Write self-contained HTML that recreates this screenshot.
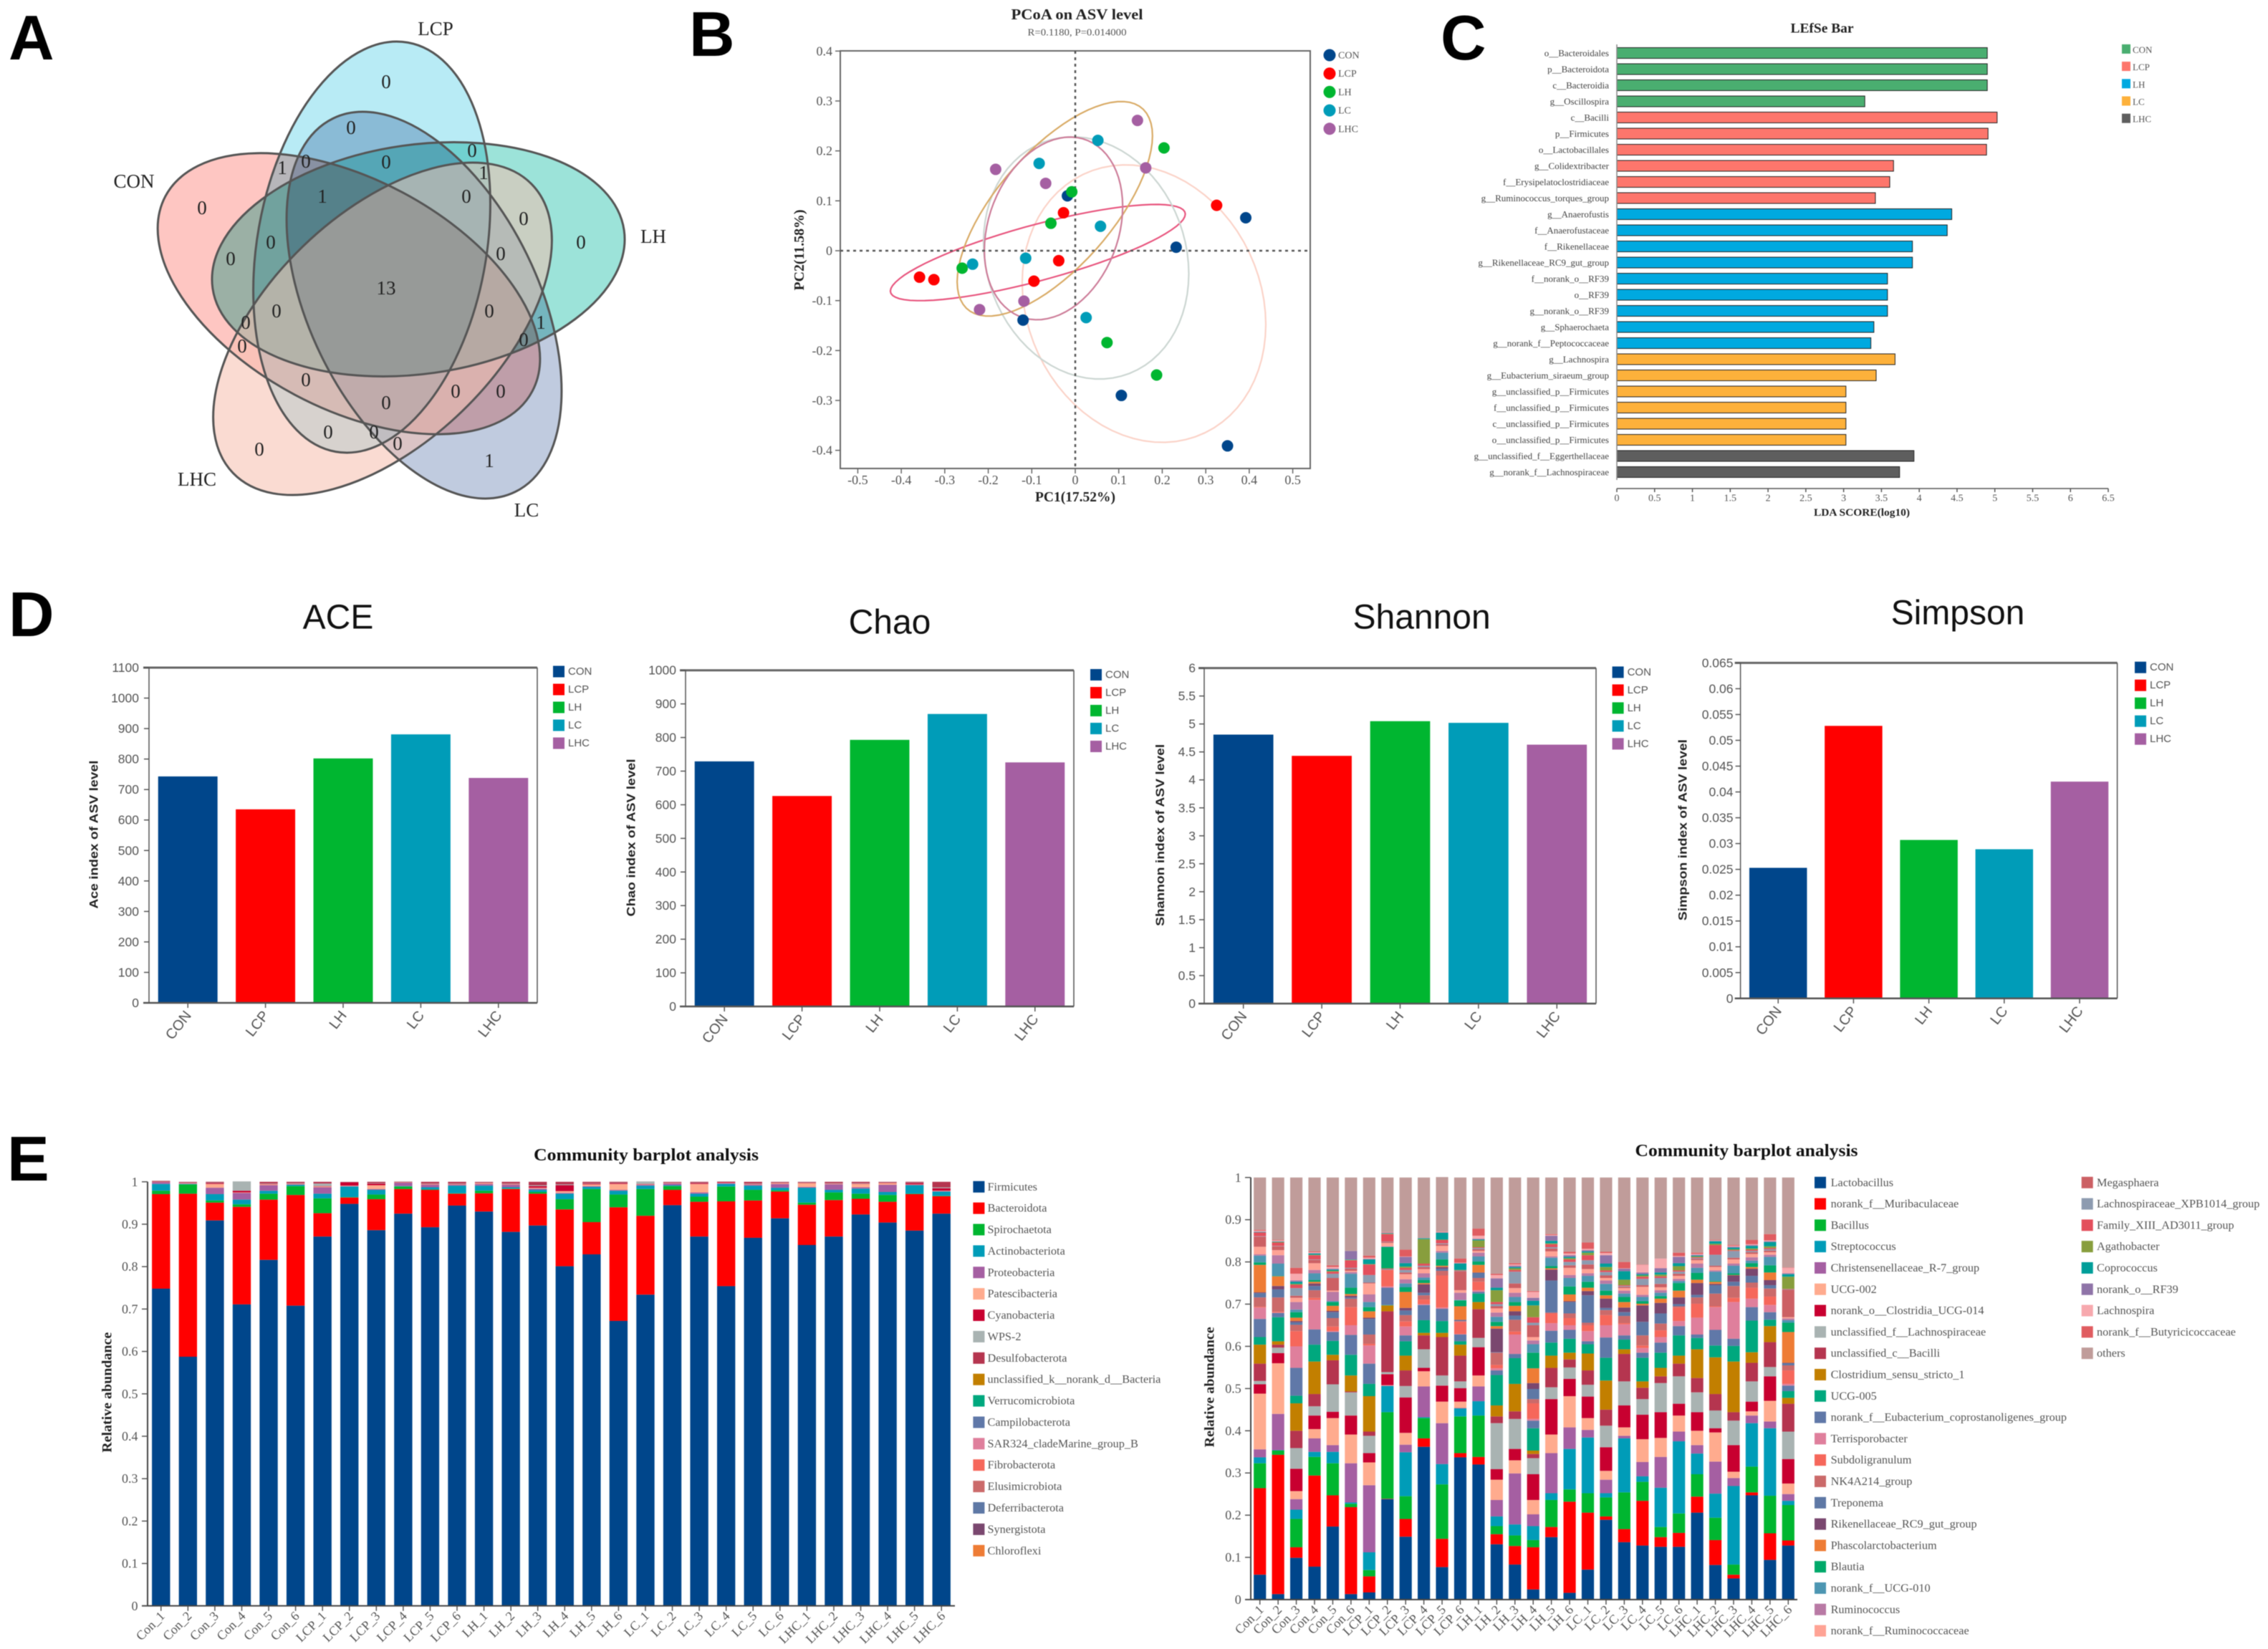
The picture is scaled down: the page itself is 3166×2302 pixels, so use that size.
<!DOCTYPE html>
<html lang="en">
<head>
<meta charset="utf-8">
<title>Microbiome analysis figure</title>
<style>
html,body{margin:0;padding:0;background:#fff;width:3166px;height:2302px;overflow:hidden}
svg{display:block;filter:blur(0.6px)}
text{font-family:"Liberation Serif",serif}
.sans{font-family:"Liberation Sans",sans-serif}
.letter{font-family:"Liberation Sans",sans-serif;font-weight:700;font-size:88px;fill:#000}
.vn{font-size:27px;fill:#222;text-anchor:middle;dominant-baseline:central}
.vl{font-size:27px;fill:#222;text-anchor:middle;dominant-baseline:central}
.pet{stroke:none;mix-blend-mode:multiply}
</style>
</head>
<body>
<svg id="fig" xmlns="http://www.w3.org/2000/svg" width="3166" height="2302" viewBox="0 0 3166 2302">
<rect width="3166" height="2302" fill="#fff"/>
<text class="letter" x="12" y="83">A</text>
<text class="letter" x="962" y="78">B</text>
<text class="letter" x="2011" y="83">C</text>
<text class="letter" x="12" y="888">D</text>
<text class="letter" x="10" y="1648">E</text>
<defs>
<clipPath id="cCON"><ellipse cx="487" cy="410" rx="290" ry="160" transform="rotate(28 487 410)"/></clipPath>
<clipPath id="cLCP"><ellipse cx="519" cy="345" rx="290" ry="160" transform="rotate(-80 519 345)"/></clipPath>
<clipPath id="cLH"><ellipse cx="584" cy="362" rx="290" ry="160" transform="rotate(-8 584 362)"/></clipPath>
<clipPath id="cLC"><ellipse cx="592" cy="426" rx="290" ry="160" transform="rotate(64 592 426)"/></clipPath>
<clipPath id="cLHC"><ellipse cx="534" cy="459" rx="290" ry="160" transform="rotate(136 534 459)"/></clipPath>
</defs>
<g id="venn" style="isolation:isolate">
<ellipse class="pet" cx="519" cy="345" rx="290" ry="160" transform="rotate(-80 519 345)" fill="#b8ebf5"/>
<ellipse class="pet" cx="584" cy="362" rx="290" ry="160" transform="rotate(-8 584 362)" fill="#9ce3d9"/>
<ellipse class="pet" cx="592" cy="426" rx="290" ry="160" transform="rotate(64 592 426)" fill="#c0cbdf"/>
<ellipse class="pet" cx="487" cy="410" rx="290" ry="160" transform="rotate(28 487 410)" fill="#fec6c2"/>
<ellipse class="pet" cx="534" cy="459" rx="290" ry="160" transform="rotate(136 534 459)" fill="#fddfd9"/>
<ellipse cx="534" cy="459" rx="290" ry="160" transform="rotate(136 534 459)" fill="#f8d8cc" opacity="0.5"/>
<g clip-path="url(#cCON)"><g clip-path="url(#cLCP)"><g clip-path="url(#cLH)"><g clip-path="url(#cLC)"><g clip-path="url(#cLHC)"><rect x="200" y="40" width="700" height="700" fill="#979a98"/></g></g></g></g></g>
</g>
<g fill="none" stroke="#555" stroke-width="3">
<ellipse cx="519" cy="345" rx="290" ry="160" transform="rotate(-80 519 345)"/>
<ellipse cx="584" cy="362" rx="290" ry="160" transform="rotate(-8 584 362)"/>
<ellipse cx="592" cy="426" rx="290" ry="160" transform="rotate(64 592 426)"/>
<ellipse cx="487" cy="410" rx="290" ry="160" transform="rotate(28 487 410)"/>
<ellipse cx="534" cy="459" rx="290" ry="160" transform="rotate(136 534 459)"/>
</g>
<text class="vl" x="608" y="40">LCP</text>
<text class="vl" x="187" y="253">CON</text>
<text class="vl" x="912" y="330">LH</text>
<text class="vl" x="735" y="712">LC</text>
<text class="vl" x="275" y="669">LHC</text>
<g>
<text class="vn" x="539" y="114">0</text>
<text class="vn" x="490" y="178">0</text>
<text class="vn" x="659" y="210">0</text>
<text class="vn" x="394" y="234">1</text>
<text class="vn" x="427" y="225">0</text>
<text class="vn" x="539" y="226">0</text>
<text class="vn" x="675" y="241">1</text>
<text class="vn" x="450" y="274">1</text>
<text class="vn" x="651" y="274">0</text>
<text class="vn" x="282" y="290">0</text>
<text class="vn" x="731" y="305">0</text>
<text class="vn" x="811" y="338">0</text>
<text class="vn" x="378" y="338">0</text>
<text class="vn" x="322" y="361">0</text>
<text class="vn" x="699" y="354">0</text>
<text class="vn" x="539" y="402">13</text>
<text class="vn" x="386" y="434">0</text>
<text class="vn" x="683" y="434">0</text>
<text class="vn" x="755" y="450">1</text>
<text class="vn" x="343" y="450">0</text>
<text class="vn" x="731" y="474">0</text>
<text class="vn" x="338" y="483">0</text>
<text class="vn" x="427" y="530">0</text>
<text class="vn" x="636" y="546">0</text>
<text class="vn" x="699" y="546">0</text>
<text class="vn" x="539" y="562">0</text>
<text class="vn" x="458" y="603">0</text>
<text class="vn" x="522" y="603">0</text>
<text class="vn" x="555" y="619">0</text>
<text class="vn" x="362" y="627">0</text>
<text class="vn" x="683" y="643">1</text>
</g>
</svg>
<script>
/* ---------- panel B data ---------- */
const pcoaGroupNames = ['CON','LCP','LH','LC','LHC'];
const pcoaColors = ['#00468b','#ff0000','#00b630','#009cb8','#a55fa2'];
const pcoaXTicks = [-0.5,-0.4,-0.3,-0.2,-0.1,0,0.1,0.2,0.3,0.4,0.5];
const pcoaYTicks = [0.4,0.3,0.2,0.1,0,-0.1,-0.2,-0.3,-0.4];
const pcoaConX = [-0.018,0.392,0.232,-0.12,0.106,0.35];
const pcoaConY = [0.11,0.066,0.007,-0.139,-0.29,-0.391];
const pcoaLcpX = [-0.027,0.325,-0.038,-0.095,-0.358,-0.325];
const pcoaLcpY = [0.076,0.091,-0.02,-0.061,-0.053,-0.058];
const pcoaLhX = [0.204,-0.008,-0.056,-0.26,0.073,0.187];
const pcoaLhY = [0.206,0.118,0.055,-0.035,-0.184,-0.249];
const pcoaLcX = [0.052,-0.083,0.058,-0.114,-0.236,0.025];
const pcoaLcY = [0.221,0.175,0.049,-0.015,-0.027,-0.134];
const pcoaLhcX = [0.143,0.162,-0.183,-0.068,-0.118,-0.22];
const pcoaLhcY = [0.261,0.166,0.163,0.135,-0.101,-0.118];
const ellipseColors = ['#fbd3c8','#e8557e','#ccd6d2','#d9ab66','#cd7d99'];
const ellipseCenterX = [0.158,-0.086,0.025,-0.047,-0.05];
const ellipseCenterY = [-0.106,-0.0037,-0.0145,0.084,0.0447];
const ellipseSpreadX = [0.28,0.339,0.236,0.2245,0.159];
const ellipseSpreadY = [0.278,0.0964,0.2426,0.215,0.183];
const ellipseCorr = [-0.15,0.8,-0.13,0.68,0.24];

/* ---------- panel C data ---------- */
const ldaLabels = ['o__Bacteroidales','p__Bacteroidota','c__Bacteroidia','g__Oscillospira','c__Bacilli','p__Firmicutes','o__Lactobacillales','g__Colidextribacter','f__Erysipelatoclostridiaceae','g__Ruminococcus_torques_group','g__Anaerofustis','f__Anaerofustaceae','f__Rikenellaceae','g__Rikenellaceae_RC9_gut_group','f__norank_o__RF39','o__RF39','g__norank_o__RF39','g__Sphaerochaeta','g__norank_f__Peptococcaceae','g__Lachnospira','g__Eubacterium_siraeum_group','g__unclassified_p__Firmicutes','f__unclassified_p__Firmicutes','c__unclassified_p__Firmicutes','o__unclassified_p__Firmicutes','g__unclassified_f__Eggerthellaceae','g__norank_f__Lachnospiraceae'];
const ldaScores = [4.9,4.9,4.9,3.28,5.03,4.91,4.89,3.66,3.61,3.42,4.43,4.37,3.91,3.91,3.58,3.58,3.58,3.4,3.36,3.68,3.43,3.03,3.03,3.03,3.03,3.93,3.74];
const ldaGroupIndex = [0,0,0,0,1,1,1,1,1,1,2,2,2,2,2,2,2,2,2,3,3,3,3,3,3,4,4];
const ldaGroupNames = ['CON','LCP','LH','LC','LHC'];
const ldaColors = ['#4aae70','#fd766c','#00a9e0','#fdb13b','#5e5e5e'];
const ldaTicks = [0,0.5,1,1.5,2,2.5,3,3.5,4,4.5,5,5.5,6,6.5];

/* ---------- panel D data ---------- */
const alphaGroups = ['CON','LCP','LH','LC','LHC'];
const alphaColors = ['#00468b','#ff0000','#00b630','#009cb8','#a55fa2'];
const aceValues = [743,635,802,881,738];
const chaoValues = [729,626,793,870,726];
const shannonValues = [4.81,4.43,5.05,5.02,4.63];
const simpsonValues = [0.0253,0.0528,0.0307,0.0289,0.042];
const aceTicks = [0,100,200,300,400,500,600,700,800,900,1000,1100];
const chaoTicks = [0,100,200,300,400,500,600,700,800,900,1000];
const shannonTicks = [0,0.5,1,1.5,2,2.5,3,3.5,4,4.5,5,5.5,6];
const simpsonTicks = [0,0.005,0.01,0.015,0.02,0.025,0.03,0.035,0.04,0.045,0.05,0.055,0.06,0.065];

/* ---------- panel E data ---------- */
const sampleNames = ['Con_1','Con_2','Con_3','Con_4','Con_5','Con_6','LCP_1','LCP_2','LCP_3','LCP_4','LCP_5','LCP_6','LH_1','LH_2','LH_3','LH_4','LH_5','LH_6','LC_1','LC_2','LC_3','LC_4','LC_5','LC_6','LHC_1','LHC_2','LHC_3','LHC_4','LHC_5','LHC_6'];
const abundanceTicks = [0,0.1,0.2,0.3,0.4,0.5,0.6,0.7,0.8,0.9,1];
const phylumNames = ['Firmicutes','Bacteroidota','Spirochaetota','Actinobacteriota','Proteobacteria','Patescibacteria','Cyanobacteria','WPS-2','Desulfobacterota','unclassified_k__norank_d__Bacteria','Verrucomicrobiota','Campilobacterota','SAR324_cladeMarine_group_B','Fibrobacterota','Elusimicrobiota','Deferribacterota','Synergistota','Chloroflexi'];
const phylumColors = ['#00468b','#ff0000','#00b630','#009cb8','#a55fa2','#ffab8e','#c80030','#a9b3b2','#b5354f','#c27f00','#00a87e','#6078a8','#df7f9c','#f6675b','#cb6a6a','#5e78a5','#7a476f','#ee7c35'];
const firmicutes = [.748,.5875,.909,.711,.816,.708,.871,.948,.886,.925,.893,.944,.93,.882,.897,.801,.829,.672,.734,.945,.871,.754,.868,.914,.851,.871,.923,.904,.885,.925];
const bacteroidota = [.223,.3845,.042,.23,.142,.261,.055,.015,.073,.058,.088,.028,.043,.101,.075,.134,.076,.268,.186,.036,.082,.2,.088,.063,.095,.086,.037,.049,.086,.041];
const spirochaetota = [.008,.022,.005,.006,.014,.021,.035,.001,.011,.006,.001,.001,.006,.001,.004,.024,.078,.03,.063,.009,.012,.035,.025,.003,.005,.018,.012,.016,.001,.001];
const actinobacteriota = [.016,.001,.015,.011,.007,.003,.011,.025,.011,.001,.005,.018,.012,.003,.005,.013,.005,.009,.008,.002,.007,.006,.01,.006,.035,.006,.012,.007,.02,.01];
const proteobacteria = [.004,.001,.015,.016,.013,.001,.015,.001,.002,.008,.006,.002,.004,.006,.003,.002,.002,.002,.002,.004,.003,.002,.002,.009,.002,.013,.003,.017,.001,.001];
const patescibacteria = [.0005,.001,.009,.001,.002,.001,.002,.001,.009,.001,.001,.001,.002,.001,.002,.004,.004,.014,.001,.001,.02,.001,.001,.002,.009,.001,.008,.004,.001,.001];
const cyanobacteria = [.001,.001,.002,.004,.001,.001,.001,.008,.004,.001,.001,.001,.001,.001,.004,.014,.002,.002,.001,.001,.002,.002,.001,.001,.001,.001,.001,.001,.003,.006];
const wps2 = [.001,.001,.001,.022,.001,.001,.006,.0005,.001,.001,.001,.001,.001,.001,.002,.002,.001,.001,.006,.001,.001,.001,.001,.001,.001,.001,.001,.001,.001,.002];
const desulfobacterota = [.001,.001,.002,0,.004,.003,.004,.0005,.003,0,.004,.004,.001,.004,.008,.006,.003,.002,0,.001,.002,0,.004,.001,.001,.003,.003,.001,.002,.013];
const phylumSeries = [firmicutes,bacteroidota,spirochaetota,actinobacteriota,proteobacteria,patescibacteria,cyanobacteria,wps2,desulfobacterota];

const genusNames = ['Lactobacillus','norank_f__Muribaculaceae','Bacillus','Streptococcus','Christensenellaceae_R-7_group','UCG-002','norank_o__Clostridia_UCG-014','unclassified_f__Lachnospiraceae','unclassified_c__Bacilli','Clostridium_sensu_stricto_1','UCG-005','norank_f__Eubacterium_coprostanoligenes_group','Terrisporobacter','Subdoligranulum','NK4A214_group','Treponema','Rikenellaceae_RC9_gut_group','Phascolarctobacterium','Blautia','norank_f__UCG-010','Ruminococcus','norank_f__Ruminococcaceae','Megasphaera','Lachnospiraceae_XPB1014_group','Family_XIII_AD3011_group','Agathobacter','Coprococcus','norank_o__RF39','Lachnospira','norank_f__Butyricicoccaceae','others'];
const genusColors = ['#00468b','#ff0000','#00b630','#009cb8','#a55fa2','#ffab8e','#c80030','#a9b3b2','#b5354f','#c27f00','#00a87e','#6078a8','#df7f9c','#f6675b','#cb6a6a','#5e78a5','#7a476f','#ee7c35','#00a96a','#4d96b2','#b97aa5','#ffa395','#cc6064','#8d9bb0','#e34f5c','#889e3d','#009e99','#8f74a8','#f7a9ae','#e05c60','#c09c9a'];
/* one array per sample, genus order as above, in parts per thousand */
const gCon1 = [59,205,59,14,19,132,22,8,41,45,18,43,27,2,22,10,2,65,6,16,3,18,24,1,9,0,1,1,2,2,124];
const gCon2 = [13,330,10,1,86,120,24,13,7,8,57,10,1,2,34,19,8,23,1,29,20,12,9,1,8,1,1,1,2,1,148];
const gCon3 = [99,25,67,22,25,19,53,49,41,65,18,66,51,36,15,6,3,8,13,6,18,10,5,18,8,2,5,3,16,14,214];
const gCon4 = [78,216,44,12,32,22,32,22,29,77,40,36,70,5,18,10,6,4,4,16,8,16,8,1,10,1,3,1,2,2,175];
const gCon5 = [173,74,76,27,16,64,15,65,57,13,33,21,2,11,20,14,3,12,9,2,22,3,30,10,5,2,3,2,4,4,208];
const gCon6 = [13,206,8,3,93,68,45,55,2,38,49,47,23,43,20,3,4,4,15,33,4,3,5,2,18,1,1,20,0,0,174];
const gLcp1 = [17,38,15,42,159,54,22,41,10,84,29,48,43,4,22,37,3,15,10,12,18,26,2,18,25,1,11,1,3,5,185];
const gLcp2 = [238,1,205,62,1,1,26,5,144,14,1,41,3,39,1,1,1,1,50,1,1,8,2,1,18,1,1,1,1,1,129];
const gLcp3 = [149,42,54,104,18,28,84,27,37,35,34,14,21,12,15,11,6,38,11,9,10,12,4,6,5,3,8,15,1,16,171];
const gLcp4 = [362,20,48,2,73,36,8,44,33,6,30,36,2,11,10,6,20,3,7,6,10,10,5,3,5,58,2,0,0,0,144];
const gLcp5 = [77,67,129,48,97,51,38,24,91,10,28,29,3,76,11,5,4,3,15,16,4,12,4,2,8,1,16,1,1,1,129];
const gLcp6 = [337,10,87,19,1,15,32,16,61,26,8,16,1,29,2,2,1,32,14,1,17,6,45,1,1,1,15,1,1,10,192];
const gLh1 = [320,18,98,34,35,26,67,22,68,17,20,4,4,20,9,12,1,18,8,12,9,4,4,3,2,16,2,2,7,17,121];
const gLh2 = [131,24,19,23,39,48,25,109,16,26,72,11,5,8,29,1,56,6,10,12,10,10,5,5,5,28,6,22,8,3,228];
const gLh3 = [83,44,25,26,121,31,27,71,18,65,61,10,46,7,28,10,10,13,9,12,10,11,11,28,4,4,3,3,3,3,203];
const gLh4 = [24,100,17,33,28,34,61,38,10,8,53,18,4,37,10,24,14,35,37,20,9,8,28,6,13,28,11,7,14,2,269];
const gLh5 = [148,24,64,16,95,44,84,28,46,29,31,28,18,23,2,76,26,3,5,20,3,12,7,3,7,2,6,12,2,2,134];
const gLh6 = [16,216,29,96,51,74,41,27,19,16,33,21,11,17,11,27,2,16,19,20,7,17,6,8,6,3,3,4,4,4,176];
const gLc1 = [71,135,46,132,18,28,51,28,34,40,22,7,24,14,6,65,10,8,14,14,6,10,11,10,12,6,3,3,3,15,154];
const gLc2 = [189,8,45,10,32,21,56,51,38,69,54,48,29,24,12,5,22,8,11,16,8,6,6,8,4,8,8,20,5,3,176];
const gLc3 = [136,31,87,128,6,20,52,57,65,11,23,10,26,3,17,9,11,13,12,8,7,6,3,2,2,13,20,6,1,15,200];
const gLc4 = [128,106,45,13,34,54,58,37,27,15,56,12,11,6,24,32,39,4,6,10,5,19,4,15,5,3,3,4,18,1,206];
const gLc5 = [125,23,24,93,73,45,61,69,16,20,36,24,13,16,16,24,25,10,6,8,6,7,8,14,4,4,5,10,23,0,192];
const gLc6 = [125,33,46,171,23,38,28,65,30,19,48,22,12,32,3,5,16,16,18,5,5,7,5,5,3,10,7,15,2,8,178];
const gLhc1 = [206,38,53,49,20,34,44,47,34,68,27,8,40,33,15,6,28,8,16,12,10,8,3,2,2,2,2,2,2,3,178];
const gLhc2 = [82,59,53,57,76,69,10,42,39,87,28,37,54,2,30,20,3,5,2,22,3,8,3,26,23,3,6,1,1,1,148];
const gLhc3 = [50,9,24,186,19,15,63,58,20,120,37,17,87,10,28,10,15,1,4,18,5,10,4,16,2,2,4,2,2,2,160];
const gLhc4 = [247,7,61,103,18,10,23,48,44,25,75,32,20,26,12,16,17,4,9,6,8,8,4,3,3,3,6,2,2,10,148];
const gLhc5 = [94,63,89,160,16,49,58,22,59,38,15,18,17,20,19,8,12,18,17,20,5,6,4,3,3,4,10,2,2,15,134];
const gLhc6 = [128,12,84,10,16,25,58,65,66,14,16,13,4,32,12,5,1,73,22,6,4,3,65,1,1,29,6,2,13,1,213];
const genusSamples = [gCon1,gCon2,gCon3,gCon4,gCon5,gCon6,gLcp1,gLcp2,gLcp3,gLcp4,gLcp5,gLcp6,gLh1,gLh2,gLh3,gLh4,gLh5,gLh6,gLc1,gLc2,gLc3,gLc4,gLc5,gLc6,gLhc1,gLhc2,gLhc3,gLhc4,gLhc5,gLhc6];

/* ---------- helpers ---------- */
const NS = 'http://www.w3.org/2000/svg';
const fig = document.getElementById('fig');
function mk(tag, attrs, parent){
  const el = document.createElementNS(NS, tag);
  for (const k in attrs) el.setAttribute(k, attrs[k]);
  (parent || fig).appendChild(el);
  return el;
}
function txt(parent, x, y, s, o){
  o = o || {};
  const a = {x:x, y:y, 'font-size':o.size||16, 'text-anchor':o.anchor||'middle', 'dominant-baseline':'central', fill:o.fill||'#444'};
  if (o.weight) a['font-weight'] = o.weight;
  if (o.sans) a['class'] = 'sans';
  if (o.rotate !== undefined) a.transform = 'rotate(' + o.rotate + ' ' + x + ' ' + y + ')';
  if (o.len){ a.textLength = o.len; a.lengthAdjust = 'spacingAndGlyphs'; }
  const el = mk('text', a, parent);
  el.textContent = s;
  return el;
}
function line(parent, x1, y1, x2, y2, stroke, w, dash){
  const a = {x1:x1, y1:y1, x2:x2, y2:y2, stroke:stroke||'#555', 'stroke-width':w||1.5};
  if (dash) a['stroke-dasharray'] = dash;
  return mk('line', a, parent);
}
const linear = (d0, d1, r0, r1) => v => r0 + (v - d0) * (r1 - r0) / (d1 - d0);

/* ---------- panel B ---------- */
function drawPcoa(){
  const g = mk('g', {});
  
  
  const x = linear(0, 0.5, 1501, 1804.6);
  const y = linear(0, 0.4, 350, 71.3);
  const L = 1173, R = 1829, T = 71, B = 654;
  const t1 = txt(g, 1503.5, 20, 'PCoA on ASV level', {size:21, weight:700, fill:'#222', len:184});
  
  
  const t2 = txt(g, 1503.5, 46, 'R=0.1180, P=0.014000', {size:14, fill:'#555', len:138});
  
  
  const frame = mk('rect', {x:L, y:T, width:R-L, height:B-T, fill:'none', stroke:'#666', 'stroke-width':2}, g);
  
  
  pcoaXTicks.forEach(v => {
    const tk = line(g, x(v), B, x(v), B+7, '#666', 1.5);
    
    
    const lb = txt(g, x(v), 670, String(v), {size:18, fill:'#555'});
    
    
  });
  pcoaYTicks.forEach(v => {
    const tk = line(g, L-7, y(v), L, y(v), '#666', 1.5);
    
    
    const lb = txt(g, 1162, y(v), String(v), {size:18, fill:'#555', anchor:'end'});
    
    
  });
  const xt = txt(g, 1501, 694, 'PC1(17.52%)', {size:20, weight:700, fill:'#222', len:112});
  
  
  const yt = txt(g, 1116, 349, 'PC2(11.58%)', {size:20, weight:700, fill:'#222', rotate:-90, len:113});
  
  
  ellipseColors.forEach((c, i) => {
    const rho = ellipseCorr[i], q = Math.sqrt(1 - rho*rho);
    let d = '';
    for (let a = 0; a <= 360; a += 5){
      const t = a * Math.PI / 180;
      const vx = ellipseCenterX[i] + ellipseSpreadX[i] * Math.cos(t);
      const vy = ellipseCenterY[i] + ellipseSpreadY[i] * (rho * Math.cos(t) + q * Math.sin(t));
      d += (a ? 'L' : 'M') + x(vx).toFixed(1) + ' ' + y(vy).toFixed(1);
    }
    const p = mk('path', {d:d + 'Z', fill:'none', stroke:c, 'stroke-width':2.2}, g);
    
    
  });
  const h0 = line(g, L, y(0), R, y(0), '#555', 2.5, '4 5');
  
  
  const v0 = line(g, x(0), T, x(0), B, '#555', 2.5, '4 5');
  
  
  const xs = [pcoaConX, pcoaLcpX, pcoaLhX, pcoaLcX, pcoaLhcX];
  const ys = [pcoaConY, pcoaLcpY, pcoaLhY, pcoaLcY, pcoaLhcY];
  pcoaGroupNames.forEach((name, i) => {
    xs[i].forEach((vx, j) => {
      const pt = mk('circle', {cx:x(vx), cy:y(ys[i][j]), r:8, fill:pcoaColors[i]}, g);
      
      
    });
  });
  pcoaGroupNames.forEach((name, i) => {
    const ly = 77 + i * 25.7;
    const sw = mk('circle', {cx:1856, cy:ly, r:8.5, fill:pcoaColors[i]}, g);
    
    
    const lt = txt(g, 1868, ly + 1, name, {size:14, anchor:'start', fill:'#555'});
    
    
  });
}

/* ---------- panel C ---------- */
function drawLefse(){
  const g = mk('g', {});
  
  
  const x = linear(0, 6.5, 2257, 2943);
  const step = 22.5;
  const rowY = i => 74 + i * step;
  const t = txt(g, 2543.5, 40, 'LEfSe Bar', {size:19, weight:700, fill:'#222', len:88});
  
  
  ldaLabels.forEach((lab, i) => {
    const b = mk('rect', {x:x(0), y:rowY(i)-7.5, width:x(ldaScores[i])-x(0), height:15, fill:ldaColors[ldaGroupIndex[i]], stroke:'#222', 'stroke-width':1}, g);
    
    
    const l = txt(g, 2246, rowY(i), lab, {size:13, anchor:'end', fill:'#444'});
    
    
  });
  const ya = line(g, 2257, 62, 2257, 670, '#888', 1.5);
  
  
  const xa = line(g, 2257, 682, 2943, 682, '#555', 1.5);
  
  
  ldaTicks.forEach(v => {
    const tk = line(g, x(v), 682, x(v), 687, '#555', 1.5);
    
    
    const lb = txt(g, x(v), 696, String(v), {size:14, fill:'#555'});
    
    
  });
  const xt = txt(g, 2599, 716, 'LDA SCORE(log10)', {size:15, weight:700, fill:'#222', len:134});
  
  
  ldaGroupNames.forEach((name, i) => {
    const ly = 68.4 + i * 24.2;
    const sw = mk('rect', {x:2962, y:ly-6.5, width:12, height:13, fill:ldaColors[i]}, g);
    
    
    const lt = txt(g, 2977, ly + 1, name, {size:13, anchor:'start', fill:'#555'});
    
    
  });
}

/* ---------- panel D ---------- */
function drawAlpha(key, title, titleX, titleY, yTitle, yTitleX, yTitleLen, L, R, T, B, labelX, legX, legY, values, ticks){
  const g = mk('g', {});
  
  
  const y = linear(ticks[0], ticks[ticks.length-1], B, T);
  const band = (R - L) / values.length;
  const barW = band * 0.765;
  const h = txt(g, titleX, titleY, title, {size:48, sans:true, fill:'#111'});
  
  
  values.forEach((v, i) => {
    const cx = L + (i + .5) * band;
    const b = mk('rect', {x:cx-barW/2, y:y(v), width:barW, height:B-y(v), fill:alphaColors[i]}, g);
    
    
    const tk = line(g, cx, B, cx, B+7, '#555', 1.5);
    
    
    const lb = txt(g, cx+1, B+14, alphaGroups[i], {size:20, sans:true, anchor:'end', fill:'#555', rotate:-52});
    
    
  });
  const top = line(g, L-8, T, R, T, '#666', 3);
  
  
  const bot = line(g, L-8, B, R, B, '#555', 2.5);
  
  
  const lf = line(g, L, T, L, B, '#555', 1.5);
  
  
  const rt = line(g, R, T, R, B, '#555', 1.5);
  
  
  ticks.forEach(v => {
    const tk = line(g, L-7, y(v), L, y(v), '#555', 1.5);
    
    
    const lb = txt(g, labelX, y(v), String(v), {size:17.5, sans:true, anchor:'end', fill:'#555'});
    
    
  });
  const yt = txt(g, yTitleX, (T+B)/2 - 1, yTitle, {size:17, sans:true, weight:700, fill:'#222', rotate:-90, len:yTitleLen});
  
  
  alphaGroups.forEach((name, i) => {
    const ly = legY + i * 25;
    const sw = mk('rect', {x:legX, y:ly-8, width:16, height:16, fill:alphaColors[i]}, g);
    
    
    const lt = txt(g, legX+21, ly, name, {size:15, sans:true, anchor:'start', fill:'#555'});
    
    
  });
}

/* ---------- panel E ---------- */
function drawStack(key, title, titleX, titleY, titleLen, yTitleX, L, R, T, B, labelX, rows, colors){
  const g = mk('g', {});
  
  
  const y = linear(0, 1, B, T);
  const band = (R - L) / sampleNames.length;
  const barW = band * 0.675;
  const h = txt(g, titleX, titleY, title, {size:24, weight:700, fill:'#111', len:titleLen});
  
  
  sampleNames.forEach((name, i) => {
    const cx = L + (i + .5) * band;
    let cum = 0;
    colors.forEach((c, s) => {
      const val = rows(s, i);
      if (val > 0){
        const b = mk('rect', {x:cx-barW/2, y:y(cum+val), width:barW, height:y(cum)-y(cum+val), fill:c}, g);
        
        
      }
      cum += val;
    });
    const tk = line(g, cx, B, cx, B+7, '#555', 1.5);
    
    
    const lb = txt(g, cx+2, B+11, name, {size:18, anchor:'end', fill:'#555', rotate:-45});
    
    
  });
  const ya = line(g, L, T, L, B, '#444', 2);
  
  
  const xa = line(g, L-8, B, R, B, '#444', 2);
  
  
  abundanceTicks.forEach(v => {
    const tk = line(g, L-8, y(v), L, y(v), '#555', 1.5);
    
    
    const lb = txt(g, labelX, y(v), String(v), {size:18, anchor:'end', fill:'#555'});
    
    
  });
  const yt = txt(g, yTitleX, (T+B)/2 - 2, 'Relative abundance', {size:19, weight:700, fill:'#222', rotate:-90, len:168});
  
  
}
function drawLegend(key, names, colors, squareX, textX, startY, stepY){
  names.forEach((name, i) => {
    const ly = startY + i * stepY;
    const sw = mk('rect', {x:squareX, y:ly-8, width:16, height:16, fill:colors[i]});
    
    
    const lt = txt(fig, textX, ly, name, {size:16.25, anchor:'start', fill:'#555'});
    
    
  });
}

drawPcoa();
drawLefse();
drawAlpha('ace','ACE',472,862,'Ace index of ASV level',131,207,208,750,932,1400,194,772,937.5,aceValues,aceTicks);
drawAlpha('chao','Chao',1242,869,'Chao index of ASV level',881,220,957,1499,935.7,1405,944,1522,942,chaoValues,chaoTicks);
drawAlpha('shannon','Shannon',1984.6,862,'Shannon index of ASV level',1619.4,254,1681,2228,932.6,1401,1669,2250.6,938.4,shannonValues,shannonTicks);
drawAlpha('simpson','Simpson',2733,856,'Simpson index of ASV level',2349,253,2429.6,2955.6,925.4,1393.8,2419.5,2980,931.7,simpsonValues,simpsonTicks);
drawStack('phylum','Community barplot analysis',902,1613,314,150,206,1333,1649.8,2241.8,192.5,(s,i)=>phylumSeries[s][i],phylumColors.slice(0,phylumSeries.length));
drawLegend('phylum',phylumNames,phylumColors,1358.4,1378.5,1656.8,29.88);
drawStack('genus','Community barplot analysis',2438,1607,311,1689,1746,2509,1643.8,2233,1732.7,(s,i)=>genusSamples[i][s]/1000,genusColors);
drawLegend('genus',genusNames.slice(0,22),genusColors.slice(0,22),2533,2555.6,1650.8,29.8);
drawLegend('genus',genusNames.slice(22),genusColors.slice(22),2905.7,2927,1650.8,29.8);
</script>
</body>
</html>
